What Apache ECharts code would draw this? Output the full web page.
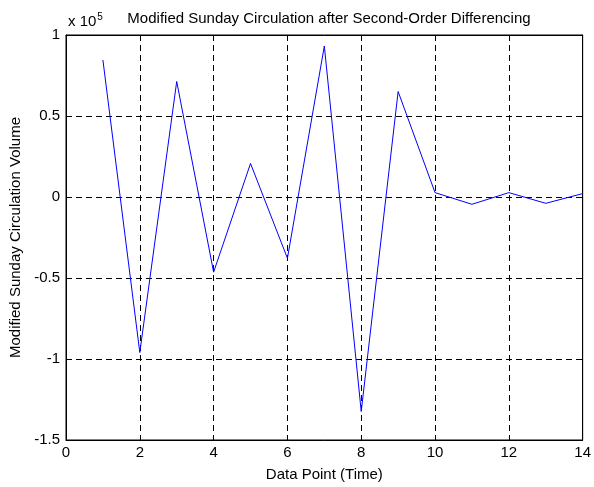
<!DOCTYPE html>
<html>
<head>
<meta charset="utf-8">
<script src="https://cdn.jsdelivr.net/npm/echarts@6/dist/echarts.min.js"></script>
<style>
  html, body { margin: 0; padding: 0; background: #fff; }
  #chart { width: 594px; height: 487px; }
</style>
</head>
<body>
<div id="chart"></div>
<script>
// Sunday circulation, second-order differenced series
const dataPoints = [1, 2, 3, 4, 5, 6, 7, 8, 9, 10, 11, 12, 13, 14];
const circulation = [84600, -96000, 71300, -46400, 20700, -37800, 93200, -132400, 65100, 2700, -4500, 2700, -3900, 2100];
const xTicks = [0, 2, 4, 6, 8, 10, 12, 14];
const yTicks = [-1.5, -1, -0.5, 0, 0.5, 1];
const yScale = 1e5;

const font = 'Liberation Sans, Arial, sans-serif';
const fs = 15;
const chart = echarts.init(document.getElementById('chart'));

const dashed = { show: true, lineStyle: { color: '#000', type: [6, 4], width: 1 } };
const tick = { show: true, inside: true, length: 5, lineStyle: { color: '#000' } };

chart.setOption({
  animation: false,
  backgroundColor: '#fff',
  textStyle: { fontFamily: font },
  title: [
    {
      text: 'Modified Sunday Circulation after Second-Order Differencing',
      left: 324, top: 6, textAlign: 'center',
      textStyle: { fontFamily: font, fontSize: fs, fontWeight: 'normal', color: '#000' }
    },
    {
      text: 'x 10{s|5}',
      left: 63, top: 7,
      textStyle: {
        fontFamily: font, fontSize: fs, fontWeight: 'normal', color: '#000',
        rich: { s: { fontSize: 10, verticalAlign: 'top', padding: [0, 0, 10, 1], fontFamily: font } }
      }
    }
  ],
  grid: {
    left: 66, right: 9, top: 35, bottom: 43,
    show: true, borderColor: '#000', borderWidth: 1, backgroundColor: '#fff'
  },
  xAxis: [
    {
      type: 'value', min: 0, max: 14, interval: 2,
      name: 'Data Point (Time)', nameLocation: 'middle', nameGap: 27,
      nameTextStyle: { fontFamily: font, fontSize: fs, color: '#000' },
      axisLine: { show: true, onZero: false, lineStyle: { color: '#000' } },
      axisTick: tick,
      axisLabel: { fontFamily: font, fontSize: fs, color: '#000', margin: 5,
        formatter: v => xTicks.includes(v) ? String(v) : '' },
      splitLine: dashed
    },
    {
      type: 'value', position: 'top', min: 0, max: 14, interval: 2,
      axisLine: { show: true, onZero: false, lineStyle: { color: '#000' } },
      axisTick: tick, axisLabel: { show: false }, splitLine: { show: false }
    }
  ],
  yAxis: [
    {
      type: 'value', min: -1.5 * yScale, max: 1 * yScale, interval: 0.5 * yScale,
      name: 'Modified Sunday Circulation Volume', nameLocation: 'middle', nameGap: 42,
      nameTextStyle: { fontFamily: font, fontSize: fs, color: '#000' },
      axisLine: { show: true, onZero: false, lineStyle: { color: '#000' } },
      axisTick: tick,
      axisLabel: { fontFamily: font, fontSize: fs, color: '#000', margin: 6,
        formatter: v => { const t = Math.round(v / yScale * 10) / 10; return yTicks.includes(t) ? String(t) : ''; } },
      splitLine: dashed
    },
    {
      type: 'value', position: 'right', min: -1.5 * yScale, max: 1 * yScale, interval: 0.5 * yScale,
      axisLine: { show: true, onZero: false, lineStyle: { color: '#000' } },
      axisTick: tick, axisLabel: { show: false }, splitLine: { show: false }
    }
  ],
  series: [
    {
      type: 'line',
      data: dataPoints.map((x, i) => [x, circulation[i]]),
      showSymbol: false,
      lineStyle: { color: '#0000ff', width: 1 },
      z: 5
    }
  ]
});
</script>
</body>
</html>
